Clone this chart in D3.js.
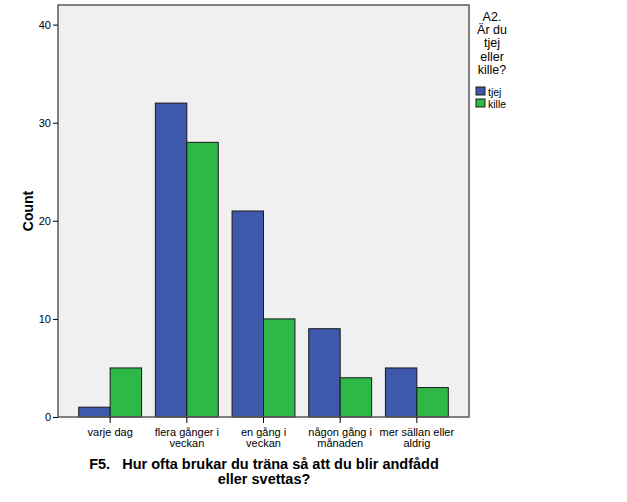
<!DOCTYPE html>
<html>
<head>
<meta charset="utf-8">
<script src="https://cdn.jsdelivr.net/npm/d3@7"></script>
<style>
  body { margin: 0; background: #fff; }
  text { font-family: "Liberation Sans", Arial, sans-serif; }
</style>
</head>
<body>
<div id="main"></div>
<script>
const categories = [
  ['varje dag'],
  ['flera gånger i', 'veckan'],
  ['en gång i', 'veckan'],
  ['någon gång i', 'månaden'],
  ['mer sällan eller', 'aldrig']
];
const seriesNames = ['tjej', 'kille'];
const tjej = [1, 32, 21, 9, 5];
const kille = [5, 28, 10, 4, 3];
const yTicks = [0, 10, 20, 30, 40];
const colors = ['#3e58ac', '#2eb848'];

const margin = { top: 5, left: 58 };
const width = 411, height = 412;

const svg = d3.select('#main').append('svg')
  .attr('width', 627)
  .attr('height', 502);

const g = svg.append('g')
  .attr('transform', 'translate(' + margin.left + ',' + margin.top + ')');

const keys = categories.map((d, i) => i);

const x = d3.scaleBand()
  .domain(keys)
  .range([0, width])
  .paddingInner(0.18)
  .paddingOuter(0.27);

const x1 = d3.scaleBand()
  .domain(seriesNames)
  .range([0, x.bandwidth()]);

const y = d3.scaleLinear()
  .domain([0, 42])
  .range([height, 0]);

// plot background
g.append('rect')
  .attr('width', width)
  .attr('height', height)
  .attr('fill', '#f0f0f0');

const rows = keys.map(i => ({ i: i, vals: [tjej[i], kille[i]] }));

const groups = g.selectAll('.grp')
  .data(rows)
  .enter().append('g')
  .attr('class', 'grp')
  .attr('transform', d => 'translate(' + x(d.i) + ',0)');

groups.selectAll('rect')
  .data(d => d.vals.map((v, j) => ({ key: seriesNames[j], v: v, j: j })))
  .enter().append('rect')
  .attr('x', d => x1(d.key))
  .attr('width', x1.bandwidth())
  .attr('y', d => y(d.v))
  .attr('height', d => height - y(d.v))
  .attr('fill', d => colors[d.j])
  .attr('stroke', '#1a1a1a')
  .attr('stroke-width', 1);

// frame
g.append('rect')
  .attr('width', width)
  .attr('height', height)
  .attr('fill', 'none')
  .attr('stroke', '#5a5a5a')
  .attr('stroke-width', 1.5);

// y axis
const yAxis = g.append('g')
  .call(d3.axisLeft(y).tickValues(yTicks).tickSize(5).tickPadding(2));
yAxis.select('.domain').remove();
yAxis.selectAll('line').attr('stroke', '#000');
yAxis.selectAll('text').attr('font-size', 11).attr('fill', '#000');

// x axis
const xAxis = g.append('g')
  .attr('transform', 'translate(0,' + height + ')')
  .call(d3.axisBottom(x).tickSize(6).tickFormat(''));
xAxis.select('.domain').remove();
xAxis.selectAll('line').attr('stroke', '#000');

xAxis.selectAll('.tick').each(function(d) {
  const t = d3.select(this).append('text')
    .attr('fill', '#000')
    .attr('font-size', 11)
    .attr('text-anchor', 'middle')
    .attr('y', 19);
  categories[d].forEach((line, k) => {
    t.append('tspan').attr('x', 0).attr('dy', k === 0 ? 0 : 11).text(line);
  });
});

// y title
svg.append('text')
  .attr('transform', 'translate(33,' + (margin.top + height / 2) + ') rotate(-90)')
  .attr('text-anchor', 'middle')
  .attr('font-size', 14)
  .attr('font-weight', 'bold')
  .text('Count');

// x title
const xt = svg.append('text')
  .attr('text-anchor', 'middle')
  .attr('font-size', 14.5)
  .attr('font-weight', 'bold')
  .attr('y', 469);
xt.append('tspan').attr('x', 264).attr('xml:space', 'preserve').text('F5.   Hur ofta brukar du träna så att du blir andfådd');
xt.append('tspan').attr('x', 264).attr('dy', 14.5).text('eller svettas?');

// legend
const legendTitle = ['A2.', 'Är du', 'tjej', 'eller', 'kille?'];
const lg = svg.append('g');
lg.selectAll('.lt')
  .data(legendTitle)
  .enter().append('text')
  .attr('x', 492)
  .attr('y', (d, i) => 21 + i * 13.2)
  .attr('text-anchor', 'middle')
  .attr('font-size', 12.5)
  .text(d => d);

const items = lg.selectAll('.li')
  .data(seriesNames)
  .enter().append('g')
  .attr('transform', (d, i) => 'translate(476,' + (87 + i * 12) + ')');
items.append('rect')
  .attr('width', 9)
  .attr('height', 8)
  .attr('fill', (d, i) => colors[i])
  .attr('stroke', '#1a1a1a');
items.append('text')
  .attr('x', 12)
  .attr('y', 8.5)
  .attr('font-size', 10.5)
  .text(d => d);
</script>
</body>
</html>
